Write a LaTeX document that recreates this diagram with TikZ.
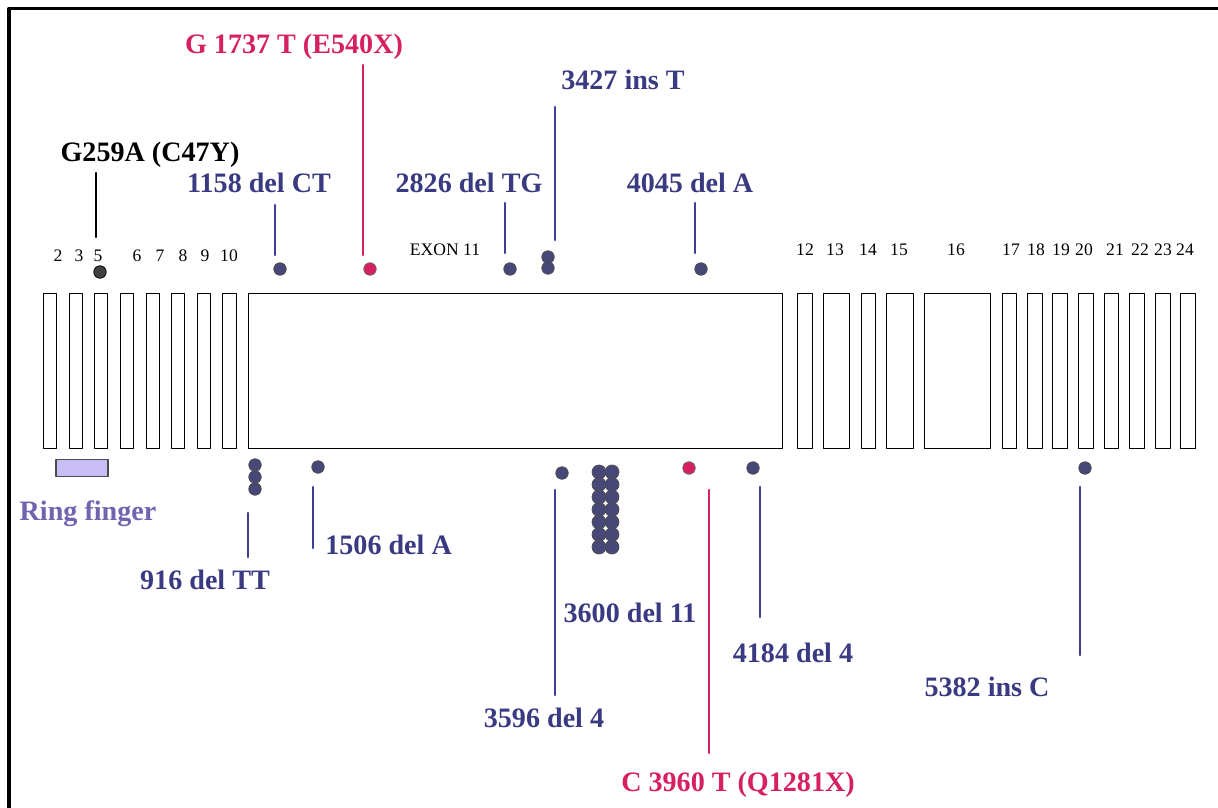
\documentclass[tikz,border=0pt]{standalone}
\usepackage{fontspec}
\setmainfont{Liberation Serif}
\usepackage{xcolor}
\usetikzlibrary{positioning}
\definecolor{mutnavy}{RGB}{58,58,130}
\definecolor{mutline}{RGB}{62,62,150}
\definecolor{mutdot}{RGB}{72,72,120}
\definecolor{mutpink}{RGB}{214,32,98}
\definecolor{ringfill}{RGB}{200,190,245}
\definecolor{ringtext}{RGB}{110,100,175}
\tikzset{
  every picture/.append style={line cap=round,line join=round},
  brca exon/.style={draw,line width=0.8pt,inner sep=0pt,minimum height=3.1cm,anchor=north west},
  brca num/.style={font=\fontsize{10}{10}\selectfont,inner sep=0pt},
  brca label/.style={font=\fontsize{16}{16}\selectfont\bfseries,text=mutnavy,inner sep=0pt},
  brca red label/.style={brca label,text=mutpink},
  brca line/.style={mutline,line width=1.2pt},
  brca red line/.style={mutpink,line width=1.2pt},
  brca dot/.style={circle,draw=black!70,fill=mutdot,line width=0.4pt,minimum size=0.25cm,inner sep=0pt},
  brca red dot/.style={brca dot,fill=mutpink,draw=black!60},
  brca stack dot/.style={brca dot,minimum size=0.28cm}
}
\begin{document}
\begin{tikzpicture}[x=0.02cm,y=-0.02cm]
\useasboundingbox (0,0) rectangle (1218,808);
\fill[white] (0,0) rectangle (1218,808);
\draw[line width=2pt,line cap=butt] (9,808) -- (9,8.5) -- (1218,8.5);

% exons
\foreach \n/\xa/\w in {2/43/13,3/69/13,5/94/13,6/120/13,7/146/13,8/171/13,9/197/13,10/222/14,
  11/248/534,12/797/15,13/823/26,14/861/14,15/886/27,16/924/66,17/1002/14,18/1027/15,
  19/1052/15,20/1078/15,21/1104/14,22/1129/15,23/1155/15,24/1180/15}
  \node[brca exon,minimum width={\w*0.02cm}] (ex\n) at (\xa,293) {};

\foreach \n/\x in {2/58,3/79,5/98,6/137,7/160,8/183,9/205,10/229}
  \node[brca num] (num\n) at (\x,256) {\n};
\foreach \n/\x in {12/805,13/835,14/868,15/899,16/956,17/1011,18/1036,19/1061,20/1084,
  21/1115,22/1140,23/1163,24/1185}
  \node[brca num] (num\n) at (\x,250) {\n};
\node[brca num] (num11) at (445,250) {EXON 11};

\node[draw=black!70,fill=ringfill,line width=0.6pt,minimum width=1.04cm,minimum height=0.34cm,inner sep=0pt] (ring) at (82,468) {};
\node[brca label,text=ringtext] (ringlbl) at (88,514) {Ring finger};

% mutations above
\node[brca label,text=black] (m259) at (150,155) {G259A (C47Y)};
\coordinate (m259a) at (96,173); \coordinate (m259b) at (96,237);
\draw[black,line width=1.2pt] (m259a) -- (m259b);
\node[brca dot,fill=black!75,draw=black] (d259) at (100,272) {};

\node[brca label] (m1158) at (259,183) {1158 del CT};
\coordinate (m1158a) at (275,205); \coordinate (m1158b) at (275,255);
\draw[brca line] (m1158a) -- (m1158b);
\node[brca dot] (d1158) at (280,269) {};

\node[brca red label] (m1737) at (294,47) {G 1737 T (E540X)};
\coordinate (m1737a) at (363,65); \coordinate (m1737b) at (363,255);
\draw[brca red line] (m1737a) -- (m1737b);
\node[brca red dot] (d1737) at (370,269) {};

\node[brca label] (m2826) at (469,183) {2826 del TG};
\coordinate (m2826a) at (505,203); \coordinate (m2826b) at (505,253);
\draw[brca line] (m2826a) -- (m2826b);
\node[brca dot] (d2826) at (510,269) {};

\node[brca label] (m3427) at (623,80) {3427 ins T};
\coordinate (m3427a) at (555,107); \coordinate (m3427b) at (555,240);
\draw[brca line] (m3427a) -- (m3427b);
\node[brca dot] (d3427a) at (548,257) {};
\node[brca dot] (d3427b) at (548,268) {};

\node[brca label] (m4045) at (690,183) {4045 del A};
\coordinate (m4045a) at (695,203); \coordinate (m4045b) at (695,253);
\draw[brca line] (m4045a) -- (m4045b);
\node[brca dot] (d4045) at (701,269) {};

% mutations below
\foreach \i/\y in {1/465,2/477,3/489}
  \node[brca dot] (d916\i) at (255,\y) {};
\coordinate (m916a) at (248,513); \coordinate (m916b) at (248,557);
\draw[brca line] (m916a) -- (m916b);
\node[brca label] (m916) at (205,580) {916 del TT};

\node[brca dot] (d1506) at (318,467) {};
\coordinate (m1506a) at (313,487); \coordinate (m1506b) at (313,548);
\draw[brca line] (m1506a) -- (m1506b);
\node[brca label,anchor=west] (m1506) at (325,545) {1506 del A};

\node[brca dot] (d3596) at (562,473) {};
\coordinate (m3596a) at (555,490); \coordinate (m3596b) at (555,695);
\draw[brca line] (m3596a) -- (m3596b);
\node[brca label] (m3596) at (544,718) {3596 del 4};

\foreach \r in {0,...,6}{
  \node[brca stack dot] (d3600a\r) at (599,472+12.5*\r) {};
  \node[brca stack dot] (d3600b\r) at (612,472+12.5*\r) {};
}
\node[brca label] (m3600) at (630,613) {3600 del 11};

\node[brca red dot] (d3960) at (689,468) {};
\coordinate (m3960a) at (709,490); \coordinate (m3960b) at (709,753);
\draw[brca red line] (m3960a) -- (m3960b);
\node[brca red label] (m3960) at (738,785) {C 3960 T (Q1281X)};

\node[brca dot] (d4184) at (753,468) {};
\coordinate (m4184a) at (760,487); \coordinate (m4184b) at (760,617);
\draw[brca line] (m4184a) -- (m4184b);
\node[brca label] (m4184) at (793,653) {4184 del 4};

\node[brca dot] (d5382) at (1085,468) {};
\coordinate (m5382a) at (1080,487); \coordinate (m5382b) at (1080,655);
\draw[brca line] (m5382a) -- (m5382b);
\node[brca label] (m5382) at (987,687) {5382 ins C};
\end{tikzpicture}
\end{document}
